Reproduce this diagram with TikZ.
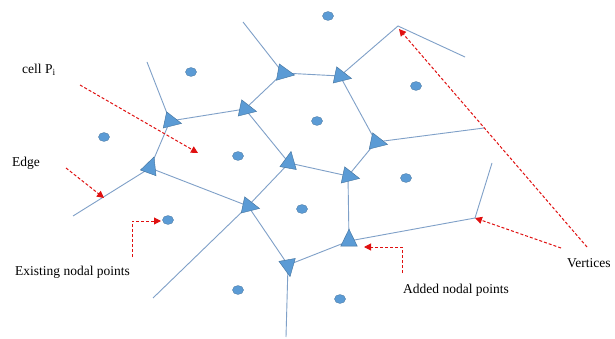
\documentclass[tikz,border=0pt]{standalone}
\usepackage{fontspec}
\setmainfont{Liberation Serif}
\usetikzlibrary{shapes.geometric,arrows.meta}
\definecolor{vblue}{HTML}{5B9BD5}
\definecolor{vborder}{HTML}{41719C}
\definecolor{vline}{HTML}{7FA0C8}
\definecolor{ared}{HTML}{E01010}
\begin{document}
\begin{tikzpicture}[x=1pt,y=-1pt,
  vert/.style={isosceles triangle,isosceles triangle apex angle=52,fill=vblue,draw=vborder,line width=0.4pt,minimum height=17pt,inner sep=0pt},
  npt/.style={ellipse,fill=vblue,draw=vborder,line width=0.3pt,minimum width=11pt,minimum height=9pt,inner sep=0pt},
  vedge/.style={draw=vline,line width=0.9pt},
  ptr/.style={draw=ared,dash pattern=on 3pt off 2pt,line width=1pt,-{Triangle[length=7pt,width=7pt]}},
  lbl/.style={font=\fontsize{13.5}{15}\selectfont,inner sep=0pt}]
\useasboundingbox[fill=white] (0,0) rectangle (615,339);
% vertex positions
\coordinate (A) at (170,121);
\coordinate (B) at (245,109);
\coordinate (C) at (283,73);
\coordinate (D) at (340,76);
\coordinate (E) at (376,142);
\coordinate (F) at (289,163);
\coordinate (G) at (348,176);
\coordinate (H) at (248,206);
\coordinate (I) at (349,241);
\coordinate (J) at (288,265);
\coordinate (K) at (150,168);
% free vertices / ends
\coordinate (V1) at (398,26);
\coordinate (V1e) at (465,57);
\coordinate (V2) at (484,128);
\coordinate (V3) at (475,218);
\coordinate (V3e) at (492,163);
\coordinate (Ae) at (147,62);
\coordinate (Ce) at (243,22);
\coordinate (Ke) at (73,216);
\coordinate (He) at (153,298);
\coordinate (Je) at (286,337);
% edges
\draw[vedge] (Ae) -- (A) -- (K) -- (Ke);
\draw[vedge] (A) -- (B) -- (C) -- (Ce);
\draw[vedge] (C) -- (D) -- (V1) -- (V1e);
\draw[vedge] (D) -- (E) -- (V2);
\draw[vedge] (E) -- (G) -- (F) -- (B);
\draw[vedge] (F) -- (H) -- (K);
\draw[vedge] (He) -- (H) -- (J) -- (Je);
\draw[vedge] (J) -- (I) -- (G);
\draw[vedge] (I) -- (V3) -- (V3e);
% triangles (vertices)
\node[vert,rotate=-12] (tA) at (A) {};
\node[vert,rotate=-12] (tB) at (B) {};
\node[vert,rotate=-10] (tC) at (C) {};
\node[vert,rotate=-12] (tD) at (D) {};
\node[vert,rotate=-12] (tE) at (E) {};
\node[vert,rotate=80] (tF) at (F) {};
\node[vert,rotate=-12] (tG) at (G) {};
\node[vert,rotate=-12] (tH) at (H) {};
\node[vert,rotate=90] (tI) at (I) {};
\node[vert,rotate=-80] (tJ) at (J) {};
\node[vert,rotate=70] (tK) at (K) {};
% existing nodal points
\node[npt] (p1) at (328,16) {};
\node[npt] (p2) at (191,72) {};
\node[npt] (p3) at (104,137) {};
\node[npt] (p4) at (238,156) {};
\node[npt] (p5) at (317,121) {};
\node[npt] (p6) at (416,86) {};
\node[npt] (p7) at (406,178) {};
\node[npt] (p8) at (302,209) {};
\node[npt] (p9) at (168,220) {};
\node[npt] (p10) at (238,290) {};
\node[npt] (p11) at (340,299) {};
% labels
\node[lbl,anchor=west] (lcell) at (22,70) {cell P\textsubscript{i}};
\node[lbl,anchor=west] (ledge) at (12,163) {Edge};
\node[lbl,anchor=west] (lexist) at (15,272) {Existing nodal points};
\node[lbl,anchor=west] (ladded) at (403,290) {Added nodal points};
\node[lbl,anchor=west] (lvert) at (567,263) {Vertices};
% pointer coordinates
\coordinate (c1s) at (80,85);
\coordinate (c1e) at (198,153);
\coordinate (c2s) at (66,168);
\coordinate (c2e) at (104,198);
\coordinate (c3s) at (132,257);
\coordinate (c3m) at (132,221);
\coordinate (c3e) at (161,221);
\coordinate (c4s) at (402,273);
\coordinate (c4m) at (402,247);
\coordinate (c4e) at (364,247);
\coordinate (c5s) at (587,247);
\coordinate (c5e) at (399,29);
\coordinate (c6s) at (561,248);
\coordinate (c6e) at (475,218);
% pointers
\draw[ptr] (c1s) -- (c1e);
\draw[ptr] (c2s) -- (c2e);
\draw[ptr] (c3s) -- (c3m) -- (c3e);
\draw[ptr] (c4s) -- (c4m) -- (c4e);
\draw[ptr] (c5s) -- (c5e);
\draw[ptr] (c6s) -- (c6e);
\end{tikzpicture}
\end{document}
